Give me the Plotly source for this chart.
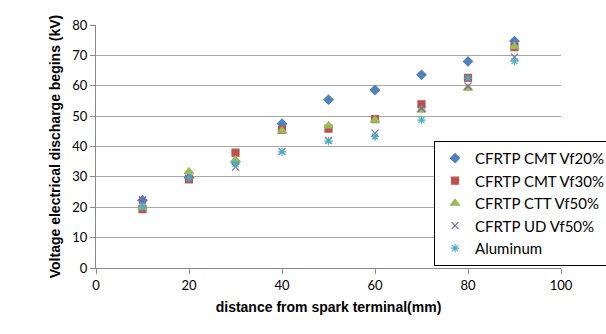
import plotly.graph_objects as go

x_vals = [10, 20, 30, 40, 50, 60, 70, 80, 90]
cmt20 = [22.3, 29.8, 35.0, 47.5, 55.4, 58.6, 63.6, 68.0, 74.7]
cmt30 = [19.4, 29.2, 38.0, 45.5, 45.9, 49.0, 53.9, 62.6, 72.7]
ctt50 = [20.0, 31.7, 35.6, 45.1, 46.8, 48.7, 52.0, 59.2, 72.9]
ud50 = [22.4, 29.6, 33.2, 38.3, 42.0, 44.4, 52.6, 59.9, 69.4]
alum = [20.0, 29.6, 34.3, 38.2, 41.8, 43.3, 48.7, 62.5, 68.1]

names = ["CFRTP CMT Vf20%", "CFRTP CMT Vf30%", "CFRTP CTT Vf50%", "CFRTP UD Vf50%", "Aluminum"]
colors = ["#4F81BD", "#C0504D", "#9BBB59", "#8064A2", "#4BACC6"]
symbols = ["diamond", "square", "triangle-up", "x-thin-open", "asterisk-open"]
sizes = [7, 7, 8, 7, 7]
series = [cmt20, cmt30, ctt50, ud50, alum]

fig = go.Figure()
for n, c, s, sz, ys in zip(names, colors, symbols, sizes, series):
    fig.add_trace(go.Scatter(
        x=x_vals, y=ys, mode="markers", name=n,
        marker=dict(symbol=s, size=sz, color=c, line=dict(color=c, width=1.2)),
    ))

font_family = "Lato, Liberation Sans, Arial, sans-serif"
title_font = "Liberation Sans, Arial, sans-serif"
fig.update_layout(
    width=606, height=334,
    margin=dict(l=96, r=45, t=25, b=66, autoexpand=False),
    paper_bgcolor="white", plot_bgcolor="white",
    font=dict(family=font_family, size=13, color="#000000"),
    showlegend=True,
    legend=dict(
        x=0.727, y=0.523, xanchor="left", yanchor="top",
        bordercolor="#000000", borderwidth=1, bgcolor="white",
        font=dict(size=15), itemsizing="trace",
        tracegroupgap=0, itemwidth=30,
    ),
    xaxis=dict(
        range=[0, 100], tickvals=[0, 20, 40, 60, 80, 100],
        showgrid=False, showline=True, linecolor="#898989", linewidth=1,
        ticks="outside", ticklen=5, tickcolor="#898989",
        zeroline=False,
        title=dict(text="<b>distance from spark terminal(mm)</b>",
                   font=dict(size=14, family=title_font), standoff=10),
    ),
    yaxis=dict(
        range=[0, 80], tickvals=list(range(0, 81, 10)),
        showgrid=True, gridcolor="#A6A6A6", gridwidth=1,
        showline=True, linecolor="#898989", linewidth=1,
        ticks="outside", ticklen=5, tickcolor="#898989",
        zeroline=False,
        title=dict(text="<b>Voltage electrical discharge begins (kV)</b>",
                   font=dict(size=14, family=title_font), standoff=8),
    ),
)

fig.write_html("out.html")
